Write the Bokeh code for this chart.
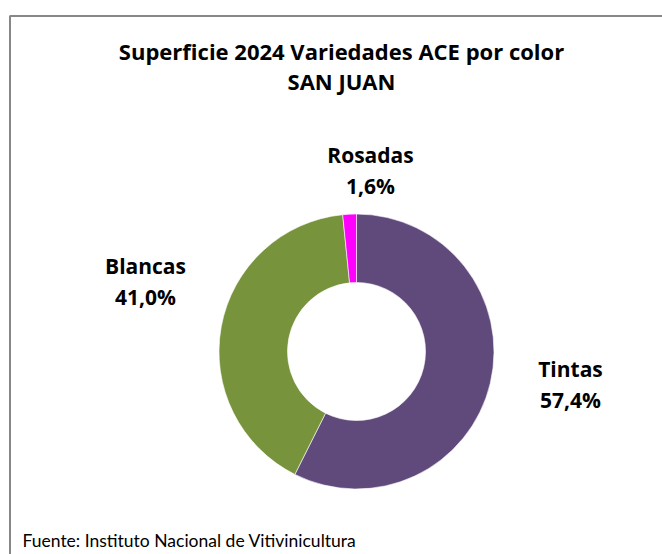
import math
from bokeh.plotting import figure
from bokeh.models import Range1d, ColumnDataSource
from bokeh.core.properties import value
from bokeh.embed import file_html
from bokeh.resources import INLINE

# ---- data ----
categories = ["Tintas", "Blancas", "Rosadas"]
shares = [57.4, 41.0, 1.6]
colors = ["#604A7B", "#77933C", "#FF00FF"]
title_lines = ["Superficie 2024 Variedades ACE por color", "SAN JUAN"]
source_note = "Fuente: Instituto Nacional de Vitivinicultura"

# ---- layout (data units == pixels, y up) ----
W, H = 662, 554
FONT = "Open Sans"
cx, cy = 356, H - 351        # donut centre
R_OUT, R_IN = 137.5, 69
# label anchor offsets relative to centre (pixels), per category
label_off = {"Tintas": (214, -33), "Blancas": (-211, 70), "Rosadas": (14, 181)}
LINE_GAP = 15.5

p = figure(width=W, height=H, output_backend="svg", toolbar_location=None,
           x_range=Range1d(0, W), y_range=Range1d(0, H),
           min_border=0, min_border_left=0, min_border_right=0,
           min_border_top=0, min_border_bottom=0)
p.axis.visible = False
p.grid.visible = False
p.outline_line_color = None
p.background_fill_color = "white"

# chart border (gray frame, extends beyond the window on right/bottom)
p.line(x=[9.5, 9.5, W + 20], y=[-20, H - 15.5, H - 15.5], line_color="#878787", line_width=2)

# donut
total = sum(shares)
starts, ends = [], []
acc = 0.0
for s in shares:
    starts.append(math.pi / 2 - 2 * math.pi * acc / total)
    acc += s
    ends.append(math.pi / 2 - 2 * math.pi * acc / total)
src = ColumnDataSource(dict(cat=categories, share=shares, color=colors,
                            start=starts, end=ends,
                            x=[cx] * 3, y=[cy] * 3))
p.annular_wedge(x="x", y="y", inner_radius=R_IN, outer_radius=R_OUT,
                start_angle="start", end_angle="end", direction="clock",
                fill_color="color", line_color="white", line_width=0.6, source=src)

# labels
lx = [cx + label_off[c][0] for c in categories]
ly = [cy + label_off[c][1] for c in categories]
pct = [f"{s:.1f}".replace(".", ",") + "%" for s in shares]
p.text(x=lx, y=[v + LINE_GAP for v in ly], text=categories, text_align="center",
       text_baseline="middle", text_font=value(FONT), text_font_style="bold",
       text_font_size="21px", text_color="#000000")
p.text(x=lx, y=[v - LINE_GAP for v in ly], text=pct, text_align="center",
       text_baseline="middle", text_font=value(FONT), text_font_style="bold",
       text_font_size="21px", text_color="#000000")

# title
p.text(x=[341, 341], y=[H - 50, H - 80], text=title_lines,
       text_align="center", text_baseline="middle", text_font=value(FONT),
       text_font_style="bold", text_font_size="22px", text_color="#000000")

# source note
p.text(x=[22], y=[H - 540], text=[source_note], text_align="left",
       text_baseline="middle", text_font=value("Lato"), text_font_size="17.5px",
       text_color="#000000")

open("out.html", "w").write(file_html(p, INLINE))
